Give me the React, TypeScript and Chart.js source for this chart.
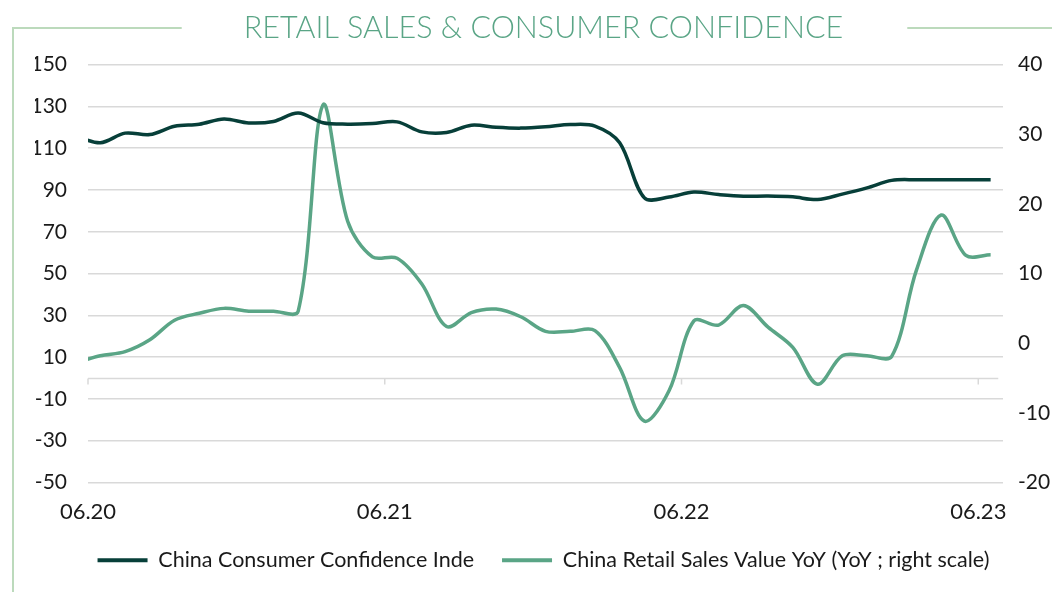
import React, { useEffect, useRef } from 'react';
import { Chart, registerables } from 'chart.js';

Chart.register(...registerables);

// Monthly observations (first entry lies just before the visible range and is clipped)
const months = [
  '05.20', '06.20', '07.20', '08.20', '09.20', '10.20', '11.20', '12.20',
  '01.21', '02.21', '03.21', '04.21', '05.21', '06.21', '07.21', '08.21', '09.21', '10.21', '11.21', '12.21',
  '01.22', '02.22', '03.22', '04.22', '05.22', '06.22', '07.22', '08.22', '09.22', '10.22', '11.22', '12.22',
  '01.23', '02.23', '03.23', '04.23', '05.23', '06.23',
];

const consumerConfidence = [
  115.8, 112.6, 117.2, 116.5, 120.5, 121.5, 124.0, 122.1,
  122.8, 126.8, 122.2, 121.5, 121.8, 122.6, 117.8, 117.5, 121.0, 120.0, 119.6, 120.2,
  121.3, 120.6, 112.6, 86.2, 86.6, 89.0, 87.8, 87.0, 87.1, 86.7, 85.4, 88.0,
  91.0, 94.6, 94.9, 94.9, 94.9, 94.9,
];

const retailSalesYoY = [
  -2.8, -1.8, -1.2, 0.5, 3.3, 4.3, 5.0, 4.6,
  4.6, 4.6, 34.2, 17.5, 12.4, 12.2, 8.5, 2.4, 4.4, 4.9, 3.8, 1.7,
  1.7, 1.8, -3.5, -11.2, -6.8, 3.2, 2.6, 5.4, 2.3, -0.6, -5.9, -1.8,
  -1.8, -1.9, 10.5, 18.4, 12.6, 12.7,
];

const xTickLabels = ['06.20', '06.21', '06.22', '06.23'];

const seriesNames = [
  'China Consumer Confidence Inde',
  'China Retail Sales Value YoY (YoY ; right scale)',
];

const titleText = 'RETAIL SALES & CONSUMER CONFIDENCE';

const DARK = '#073f39';
const GREEN = '#5aa586';
const FRAME = '#bcdabc';
const GRID = '#d9d9d9';
const TEXT = '#1a1a1a';
const TITLE_FONT = { family: 'Lato', size: 30.5, weight: '300' as const };

// x position of each observation: months relative to 06.20
const xOf = (label: string) => months.indexOf(label) - months.indexOf('06.20');
// tick marks sit half a month before the labelled month
const xTickPositions = xTickLabels.map((l) => xOf(l) - 0.5);

const framePlugin = {
  id: 'framePlugin',
  beforeDraw(chart: any) {
    const { ctx, width, height } = chart;
    const tb = chart.titleBlock;
    ctx.save();
    ctx.font = `${TITLE_FONT.weight} ${TITLE_FONT.size}px ${TITLE_FONT.family}`;
    const tw = ctx.measureText(titleText).width;
    const cx = (tb.left + tb.right) / 2;
    ctx.strokeStyle = FRAME;
    ctx.lineWidth = 2;
    ctx.beginPath();
    ctx.moveTo(13, height);
    ctx.lineTo(13, 28);
    ctx.lineTo(cx - tw / 2 - 62, 28);
    ctx.moveTo(cx + tw / 2 + 64, 28);
    ctx.lineTo(width, 28);
    ctx.stroke();
    ctx.restore();
  },
};

const zeroAxisPlugin = {
  id: 'zeroAxisPlugin',
  beforeDatasetsDraw(chart: any) {
    const { ctx, chartArea, scales } = chart;
    const y = Math.round(scales.y.getPixelForValue(0)) + 0.5;
    ctx.save();
    ctx.strokeStyle = GRID;
    ctx.lineWidth = 1.5;
    ctx.beginPath();
    ctx.moveTo(chartArea.left, y);
    ctx.lineTo(scales.x.getPixelForValue(xTickPositions[xTickPositions.length - 1]) + 20, y);
    xTickPositions.forEach((v) => {
      const x = scales.x.getPixelForValue(v);
      ctx.moveTo(x, y);
      ctx.lineTo(x, y + 6);
    });
    ctx.stroke();
    ctx.restore();
  },
};

export default function App() {
  const canvasRef = useRef<HTMLCanvasElement | null>(null);

  useEffect(() => {
    document.body.style.margin = '0';
    const canvas = canvasRef.current;
    if (!canvas) return;
    Chart.defaults.font.family = 'Lato';

    const chart = new Chart(canvas, {
      type: 'line',
      data: {
        datasets: [
          {
            label: seriesNames[0],
            data: months.map((m, i) => ({ x: xOf(m), y: consumerConfidence[i] })),
            borderColor: DARK,
            backgroundColor: DARK,
            borderWidth: 3.5,
            pointRadius: 0,
            tension: 0.33,
            yAxisID: 'y',
            clip: 0,
          },
          {
            label: seriesNames[1],
            data: months.map((m, i) => ({ x: xOf(m), y: retailSalesYoY[i] })),
            borderColor: GREEN,
            backgroundColor: GREEN,
            borderWidth: 3.5,
            pointRadius: 0,
            tension: 0.33,
            yAxisID: 'y1',
            clip: 0,
          },
        ],
      },
      options: {
        responsive: false,
        animation: false,
        events: [],
        layout: { padding: { left: 35, right: 0, top: 0, bottom: 11 } },
        plugins: {
          title: {
            display: true,
            text: titleText,
            color: GREEN,
            font: TITLE_FONT,
            padding: { top: 10, bottom: 18 },
          },
          legend: {
            position: 'bottom',
            labels: {
              boxWidth: 50,
              boxHeight: 4,
              padding: 28,
              color: TEXT,
              font: { size: 21.5 },
              generateLabels: (c: any) =>
                (Chart.defaults.plugins.legend.labels as any)
                  .generateLabels(c)
                  .map((l: any) => ({ ...l, lineWidth: 0 })),
            },
          },
          tooltip: { enabled: false },
        },
        scales: {
          x: {
            type: 'linear',
            min: xTickPositions[0],
            max: xOf(months[months.length - 1]) + 0.5,
            grid: { display: false, drawTicks: false },
            border: { display: false },
            afterFit: (s: any) => {
              s.height = 39;
            },
            afterBuildTicks: (s: any) => {
              s.ticks = xTickPositions.map((v) => ({ value: v }));
            },
            ticks: {
              autoSkip: false,
              maxRotation: 0,
              padding: 16,
              color: TEXT,
              font: { size: 22 },
              callback: (_v: any, i: number) => xTickLabels[i],
            },
          },
          y: {
            position: 'left',
            min: -50,
            max: 150,
            grid: { color: GRID, lineWidth: 1.5, drawTicks: false },
            border: { display: false },
            afterFit: (s: any) => {
              s.width = 53;
            },
            ticks: { stepSize: 20, padding: 21, color: TEXT, font: { size: 21 } },
          },
          y1: {
            position: 'right',
            min: -20,
            max: 40,
            grid: { display: false, drawTicks: false },
            border: { display: false },
            afterFit: (s: any) => {
              s.width = 49;
            },
            ticks: { stepSize: 10, padding: 15, color: TEXT, font: { size: 21 } },
          },
        },
      },
      plugins: [framePlugin, zeroAxisPlugin],
    } as any);

    return () => chart.destroy();
  }, []);

  return (
    <div style={{ width: 1052, height: 592, background: '#ffffff' }}>
      <canvas ref={canvasRef} width={1052} height={592} />
    </div>
  );
}
